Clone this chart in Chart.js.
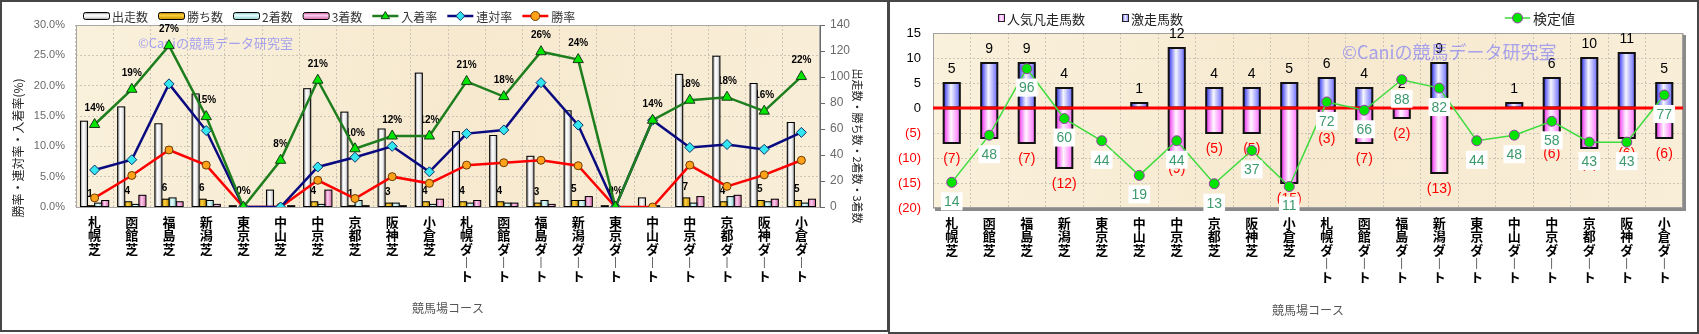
<!DOCTYPE html>
<html lang="ja">
<head>
<meta charset="utf-8">
<title>競馬場コース別成績</title>
<script src="https://cdn.jsdelivr.net/npm/chart.js@4.4.1/dist/chart.umd.min.js"></script>
<style>
  body { margin: 0; background: #fff; width: 1699px; height: 334px; overflow: hidden; }
  canvas { position: absolute; top: 0; }
  #courseChart { left: 0; }
  #gekisoChart { left: 888px; }
  .frame { position: absolute; top: 0; border: 2px solid #464646; box-sizing: border-box; pointer-events: none; }
</style>
</head>
<body>
<canvas id="courseChart" width="888" height="332"></canvas>
<canvas id="gekisoChart" width="811" height="334"></canvas>
<div class="frame" style="left:0;width:889px;height:332px"></div>
<div class="frame" style="left:888px;width:811px;height:334px"></div>
<script>
'use strict';

// コース（左右のグラフ共通）
const courseNames = ['札幌芝','函館芝','福島芝','新潟芝','東京芝','中山芝','中京芝','京都芝','阪神芝','小倉芝',
  '札幌ダート','函館ダート','福島ダート','新潟ダート','東京ダート','中山ダート','中京ダート','京都ダート','阪神ダート','小倉ダート'];

// 左：頭数（右軸）
const runCounts    = [66, 77, 64, 87, 1, 13, 91, 73, 60, 103, 58, 55, 39, 74, 1, 7, 102, 116, 95, 65];
const winCounts    = [1, 4, 6, 6, 0, 0, 4, 1, 3, 4, 4, 4, 3, 5, 0, 0, 7, 4, 5, 5];
const secondCounts = [3, 2, 7, 5, 0, 0, 2, 5, 3, 2, 3, 3, 5, 5, 0, 1, 3, 8, 4, 3];
const thirdCounts  = [5, 9, 4, 2, 0, 1, 13, 1, 1, 6, 5, 3, 2, 8, 0, 0, 8, 9, 6, 6];

// 左：率（%、左軸）
const winRate    = [1.5, 5.2, 9.4, 6.9, 0, 0, 4.4, 1.4, 5.0, 3.9, 6.9, 7.3, 7.7, 6.8, 0, 0, 6.9, 3.4, 5.3, 7.7];
const rentaiRate = [6.1, 7.8, 20.3, 12.6, 0, 0, 6.6, 8.2, 10.0, 5.8, 12.1, 12.7, 20.5, 13.5, 0, 14.3, 9.8, 10.3, 9.5, 12.3];
const placeRate  = [13.6, 19.4, 26.6, 14.9, 0, 7.7, 20.9, 9.6, 11.7, 11.7, 20.7, 18.2, 25.6, 24.3, 0, 14.3, 17.6, 18.1, 15.8, 21.5];

const rateTicks  = [0, 5, 10, 15, 20, 25, 30];
const countTicks = [0, 20, 40, 60, 80, 100, 120, 140];

// 右：激走馬数・人気凡走馬数・検定値
const gekisoCounts = [5, 9, 9, 4, 0, 1, 12, 4, 4, 5, 6, 4, 2, 9, 0, 1, 6, 10, 11, 5];
const bonsoCounts  = [7, 6, 7, 12, 0, 0, 9, 5, 5, 15, 3, 7, 2, 13, 0, 0, 6, 8, 6, 6];
const kenteiValues = [14, 48, 96, 60, 44, 19, 44, 13, 37, 11, 72, 66, 88, 82, 44, 48, 58, 43, 43, 77];
const diffTicks = [-20, -15, -10, -5, 0, 5, 10, 15];

const JP = '"Noto Sans CJK JP", "Noto Sans", sans-serif';
const NUM = 'Arial, "Liberation Sans", sans-serif';
const WATERMARK = '©Caniの競馬データ研究室';

// 円柱っぽく見せるための横グラデーション
const runShade    = [[0, '#8a8a8a'], [0.35, '#ffffff'], [0.65, '#eeeeee'], [1, '#9a9a9a']];
const winShade    = [[0, '#b07c00'], [0.4, '#ffd23c'], [1, '#c48c00']];
const secondShade = [[0, '#78bcbc'], [0.4, '#eaffff'], [1, '#8ccccc']];
const thirdShade  = [[0, '#c0589a'], [0.4, '#ffcdee'], [1, '#d06aa8']];
const gekisoShade = [[0, '#3232f0'], [0.45, '#f6f6ff'], [1, '#6a6aff']];
const bonsoShade  = [[0, '#f030f0'], [0.45, '#fff6ff'], [1, '#ff70ff']];

// 縦書きラベル（長音は縦棒にする）
function verticalLabel(name) {
  return Array.from(name).map(ch => ch === 'ー' ? '︱' : ch);
}

function setTicks(list) {
  return scale => { scale.ticks = list.map(v => ({ value: v })); };
}
function fixWidth(w) {
  return scale => { scale.width = w; };
}
function fixHeight(h) {
  return scale => { scale.height = h; };
}

function shade(ctx, x0, y0, x1, y1, stops) {
  const g = ctx.createLinearGradient(x0, y0, x1, y1);
  stops.forEach(s => g.addColorStop(s[0], s[1]));
  return g;
}

function plotBackground(chart) {
  const { ctx, chartArea: a } = chart;
  ctx.save();
  ctx.fillStyle = shade(ctx, a.left, a.top, a.right, a.bottom,
    [[0, '#faf1dc'], [0.5, '#f6e9cf'], [1, '#f9eed8']]);
  ctx.fillRect(a.left, a.top, a.right - a.left, a.bottom - a.top);
  ctx.restore();
}

function marker(ctx, style, x, y, r, fill, stroke) {
  ctx.beginPath();
  if (style === 'triangle') {
    ctx.moveTo(x, y - r);
    ctx.lineTo(x + r * 0.95, y + r * 0.6);
    ctx.lineTo(x - r * 0.95, y + r * 0.6);
    ctx.closePath();
  } else if (style === 'diamond') {
    ctx.moveTo(x, y - r);
    ctx.lineTo(x + r, y);
    ctx.lineTo(x, y + r);
    ctx.lineTo(x - r, y);
    ctx.closePath();
  } else {
    ctx.arc(x, y, r, 0, Math.PI * 2);
  }
  ctx.fillStyle = fill;
  ctx.fill();
  ctx.lineWidth = 1;
  ctx.strokeStyle = stroke;
  ctx.stroke();
}

// 棒をグラデーションで塗り直す（位置と大きさはChart.jsの要素から取る）
const cylinderBars = {
  id: 'cylinderBars',
  afterDatasetDraw(chart, args) {
    const ds = chart.data.datasets[args.index];
    if (!ds.shade) return;
    const ctx = chart.ctx;
    ctx.save();
    args.meta.data.forEach(bar => {
      const p = bar.getProps(['x', 'y', 'base', 'width'], true);
      const top = Math.min(p.y, p.base);
      const h = Math.abs(p.base - p.y);
      if (h < 0.5) return;
      const left = p.x - p.width / 2;
      ctx.fillStyle = shade(ctx, left, 0, left + p.width, 0, ds.shade);
      ctx.fillRect(left, top, p.width, h);
      ctx.lineWidth = ds.borderWidth;
      ctx.strokeStyle = ds.borderColor;
      ctx.strokeRect(left, top, p.width, h);
    });
    ctx.restore();
  }
};

const leftLegend = [
  { text: '出走数', shade: runShade },
  { text: '勝ち数', shade: winShade },
  { text: '2着数', shade: secondShade },
  { text: '3着数', shade: thirdShade },
  { text: '入着率', line: '#1e7e1e', point: 'triangle', fill: '#00e600', edge: '#1a3a1a' },
  { text: '連対率', line: '#0a0a80', point: 'diamond', fill: '#33e6f0', edge: '#10306a' },
  { text: '勝率', line: '#ff0000', point: 'circle', fill: '#ffa21a', edge: '#6a3a00' }
];

const leftDecor = {
  id: 'leftDecor',
  beforeDraw: plotBackground,
  beforeDatasetsDraw(chart) {
    const { ctx, chartArea: a } = chart;
    ctx.save();
    ctx.strokeStyle = '#a8a8a8';
    ctx.lineWidth = 1;
    ctx.strokeRect(a.left + 0.5, a.top + 0.5, a.right - a.left - 1, a.bottom - a.top);
    // 右軸の線と目盛り
    const yc = chart.scales.yCount;
    ctx.strokeStyle = '#6a6a6a';
    ctx.beginPath();
    ctx.moveTo(a.right + 0.5, a.top);
    ctx.lineTo(a.right + 0.5, a.bottom);
    countTicks.forEach(v => {
      const y = Math.round(yc.getPixelForValue(v)) + 0.5;
      ctx.moveTo(a.right, y);
      ctx.lineTo(a.right + 5, y);
    });
    ctx.stroke();

    ctx.font = '13px ' + JP;
    ctx.fillStyle = 'rgba(110,110,255,0.6)';
    ctx.textAlign = 'left';
    ctx.textBaseline = 'middle';
    ctx.fillText(WATERMARK, a.left + 62, a.top + 18);

    // 入着率と勝ち数のラベル（棒の下になる）
    ctx.font = 'bold 10px ' + NUM;
    ctx.fillStyle = '#000';
    ctx.textAlign = 'center';
    chart.getDatasetMeta(4).data.forEach((pt, i) => {
      ctx.fillText(Math.round(placeRate[i]) + '%', pt.x, pt.y - 16);
    });
    chart.getDatasetMeta(1).data.forEach((bar, i) => {
      if (winCounts[i] > 0) ctx.fillText(String(winCounts[i]), bar.x - 1, bar.y - 11);
    });
    ctx.restore();
  },
  afterDraw(chart) {
    const { ctx, chartArea: a } = chart;
    ctx.save();
    ctx.textBaseline = 'middle';
    ctx.textAlign = 'left';
    ctx.font = '12px ' + JP;
    let x = 83;
    const y = 16;
    leftLegend.forEach(item => {
      if (item.shade) {
        ctx.fillStyle = shade(ctx, 0, y - 3.5, 0, y + 3.5, item.shade);
        ctx.beginPath();
        ctx.roundRect(x + 0.5, y - 3.5, 26, 7, 2);
        ctx.fill();
        ctx.strokeStyle = '#000';
        ctx.lineWidth = 1;
        ctx.stroke();
      } else {
        ctx.strokeStyle = item.line;
        ctx.lineWidth = 2.5;
        ctx.beginPath();
        ctx.moveTo(x, y);
        ctx.lineTo(x + 26, y);
        ctx.stroke();
        marker(ctx, item.point, x + 13, y, 4.5, item.fill, item.edge);
      }
      ctx.fillStyle = '#333';
      ctx.fillText(item.text, x + 29, y + 1);
      x += 29 + ctx.measureText(item.text).width + 10;
    });

    ctx.fillStyle = '#222';
    ctx.textAlign = 'center';
    ctx.save();
    ctx.translate(18, 148);
    ctx.rotate(-Math.PI / 2);
    ctx.fillText('勝率・連対率・入着率(%)', 0, 0);
    ctx.restore();
    ctx.save();
    ctx.font = '11px ' + JP;
    ctx.translate(857, 146);
    ctx.rotate(Math.PI / 2);
    ctx.fillText('出走数・勝ち数・2着数・3着数', 0, 0);
    ctx.restore();

    ctx.fillStyle = '#555';
    ctx.fillText('競馬場コース', (a.left + a.right) / 2, 308);
    ctx.restore();
  }
};

const gridLine = { color: '#cdc5b5', drawTicks: false };
const dotted = { display: false, dash: [2, 2] };
const courseTickFont = { family: JP, size: 13, weight: 'bold', lineHeight: 1.04 };

new Chart(document.getElementById('courseChart'), {
  type: 'bar',
  data: {
    labels: courseNames.map(verticalLabel),
    datasets: [
      { label: '出走数', data: runCounts, yAxisID: 'yCount', backgroundColor: '#cccccc', borderColor: '#000', borderWidth: 1, shade: runShade, order: 1 },
      { label: '勝ち数', data: winCounts, yAxisID: 'yCount', backgroundColor: '#e8b000', borderColor: '#000', borderWidth: 1, shade: winShade, order: 1 },
      { label: '2着数', data: secondCounts, yAxisID: 'yCount', backgroundColor: '#b8ecec', borderColor: '#000', borderWidth: 1, shade: secondShade, order: 1 },
      { label: '3着数', data: thirdCounts, yAxisID: 'yCount', backgroundColor: '#e890c8', borderColor: '#000', borderWidth: 1, shade: thirdShade, order: 1 },
      { type: 'line', label: '入着率', data: placeRate, yAxisID: 'yRate', borderColor: '#1e7e1e', borderWidth: 2.5,
        pointStyle: 'triangle', pointRadius: 6, pointBackgroundColor: '#00e600', pointBorderColor: '#1a3a1a', pointBorderWidth: 1, order: 0 },
      { type: 'line', label: '連対率', data: rentaiRate, yAxisID: 'yRate', borderColor: '#0a0a80', borderWidth: 2.5,
        pointStyle: 'rectRot', pointRadius: 5, pointBackgroundColor: '#33e6f0', pointBorderColor: '#10306a', pointBorderWidth: 1, order: 0 },
      { type: 'line', label: '勝率', data: winRate, yAxisID: 'yRate', borderColor: '#ff0000', borderWidth: 2.5,
        pointStyle: 'circle', pointRadius: 4, pointBackgroundColor: '#ffa21a', pointBorderColor: '#6a3a00', pointBorderWidth: 1, order: 0 }
    ]
  },
  options: {
    responsive: false,
    animation: false,
    events: [],
    layout: { padding: { top: 25, left: 0, right: 0, bottom: 0 } },
    plugins: { legend: { display: false }, tooltip: { enabled: false } },
    datasets: { bar: { categoryPercentage: 0.76, barPercentage: 1 } },
    scales: {
      x: {
        grid: gridLine,
        border: dotted,
        ticks: { autoSkip: false, maxRotation: 0, minRotation: 0, padding: 8, color: '#000', font: courseTickFont },
        afterFit: fixHeight(125)
      },
      yRate: {
        position: 'left', min: 0, max: 30,
        afterBuildTicks: setTicks(rateTicks),
        grid: gridLine,
        border: dotted,
        ticks: { padding: 11, color: '#6a6a6a', font: { family: NUM, size: 11 }, callback: v => v.toFixed(1) + '%' },
        afterFit: fixWidth(76)
      },
      yCount: {
        position: 'right', min: 0, max: 140,
        afterBuildTicks: setTicks(countTicks),
        grid: { drawOnChartArea: false, drawTicks: false },
        border: { display: false },
        ticks: { padding: 10, color: '#6a6a6a', font: { family: NUM, size: 12 } },
        afterFit: fixWidth(68)
      }
    }
  },
  plugins: [cylinderBars, leftDecor]
});

const rightDecor = {
  id: 'rightDecor',
  beforeDraw: plotBackground,
  beforeDatasetsDraw(chart) {
    const { ctx, chartArea: a } = chart;
    ctx.save();
    ctx.strokeStyle = '#a0a0a0';
    ctx.lineWidth = 1;
    ctx.strokeRect(a.left + 0.5, a.top + 0.5, a.right - a.left - 1, a.bottom - a.top - 1);
    ctx.fillStyle = '#8a8a8a';
    ctx.fillRect(a.right, a.top + 2, 3, a.bottom - a.top + 1);
    ctx.fillRect(a.left + 2, a.bottom, a.right - a.left + 1, 3);
    ctx.restore();
  },
  afterDatasetDraw(chart, args) {
    if (args.index !== 0) return;
    const { ctx, chartArea: a } = chart;
    const y0 = chart.scales.y.getPixelForValue(0);
    ctx.save();
    ctx.font = '14px ' + NUM;
    ctx.textAlign = 'center';
    ctx.textBaseline = 'middle';
    ctx.fillStyle = '#000';
    chart.getDatasetMeta(1).data.forEach((bar, i) => {
      if (gekisoCounts[i] > 0) ctx.fillText(String(gekisoCounts[i]), bar.x, bar.y - 14);
    });
    ctx.fillStyle = '#ff0000';
    chart.getDatasetMeta(0).data.forEach((bar, i) => {
      if (bonsoCounts[i] > 0) ctx.fillText('(' + bonsoCounts[i] + ')', bar.x, bar.y + 16);
    });
    // ゼロの基準線
    ctx.fillRect(a.left, y0 - 1.5, a.right - a.left, 3);

    ctx.font = '18px ' + JP;
    ctx.fillStyle = 'rgba(100,100,255,0.55)';
    ctx.textAlign = 'left';
    ctx.fillText(WATERMARK, a.left + 409, a.top + 19);
    ctx.restore();
  },
  afterDatasetsDraw(chart) {
    const ctx = chart.ctx;
    ctx.save();
    ctx.font = '14px ' + NUM;
    ctx.textAlign = 'center';
    ctx.textBaseline = 'middle';
    chart.getDatasetMeta(2).data.forEach((pt, i) => {
      const t = String(kenteiValues[i]);
      const w = ctx.measureText(t).width + 6;
      const cy = pt.y + 19;
      ctx.fillStyle = '#fff';
      ctx.fillRect(pt.x - w / 2, cy - 9, w, 18);
      ctx.fillStyle = '#3c9a6c';
      ctx.fillText(t, pt.x, cy + 1);
    });
    ctx.restore();
  },
  afterDraw(chart) {
    const { ctx, chartArea: a } = chart;
    ctx.save();
    ctx.textBaseline = 'middle';
    ctx.textAlign = 'left';
    ctx.font = '13px ' + JP;
    const y = 18;
    [['人気凡走馬数', bonsoShade, 110], ['激走馬数', gekisoShade, 234]].forEach(([text, stops, x]) => {
      ctx.fillStyle = shade(ctx, x, 0, x + 7, 0, stops);
      ctx.fillRect(x + 0.5, y - 3.5, 6, 7);
      ctx.strokeStyle = '#222';
      ctx.lineWidth = 1;
      ctx.strokeRect(x + 0.5, y - 3.5, 6, 7);
      ctx.fillStyle = '#222';
      ctx.fillText(text, x + 9, y + 1);
    });
    ctx.strokeStyle = '#3ddc3d';
    ctx.lineWidth = 1.5;
    ctx.beginPath();
    ctx.moveTo(617, y);
    ctx.lineTo(642, y);
    ctx.stroke();
    marker(ctx, 'circle', 629.5, y, 5, '#00e400', '#9a3aa8');
    ctx.font = '14px ' + JP;
    ctx.fillStyle = '#222';
    ctx.fillText('検定値', 645, y + 1);

    ctx.font = '12px ' + JP;
    ctx.fillStyle = '#555';
    ctx.textAlign = 'center';
    ctx.fillText('競馬場コース', (a.left + a.right) / 2, 310);
    ctx.restore();
  }
};

new Chart(document.getElementById('gekisoChart'), {
  type: 'bar',
  data: {
    labels: courseNames.map(verticalLabel),
    datasets: [
      { label: '人気凡走馬数', data: bonsoCounts.map(v => -v), backgroundColor: '#ff90ff', borderColor: '#111', borderWidth: 2, shade: bonsoShade, order: 1 },
      { label: '激走馬数', data: gekisoCounts, backgroundColor: '#9090ff', borderColor: '#111', borderWidth: 2, shade: gekisoShade, order: 1 },
      { type: 'line', label: '検定値', data: kenteiValues, yAxisID: 'yK', borderColor: '#3ddc3d', borderWidth: 1.5,
        pointRadius: 5, pointBackgroundColor: '#00e400', pointBorderColor: '#9a3aa8', pointBorderWidth: 1, order: 0 }
    ]
  },
  options: {
    responsive: false,
    animation: false,
    events: [],
    layout: { padding: { top: 33, left: 0, right: 16, bottom: 0 } },
    plugins: { legend: { display: false }, tooltip: { enabled: false } },
    datasets: { bar: { categoryPercentage: 0.43, barPercentage: 1 } },
    scales: {
      x: {
        stacked: true,
        grid: gridLine,
        border: dotted,
        ticks: { autoSkip: false, maxRotation: 0, minRotation: 0, padding: 8, color: '#000', font: courseTickFont },
        afterFit: fixHeight(126)
      },
      y: {
        stacked: true, min: -20, max: 15,
        afterBuildTicks: setTicks(diffTicks),
        grid: gridLine,
        border: dotted,
        ticks: { padding: 12, font: { family: NUM, size: 13 },
          color: c => (c.tick && c.tick.value < 0 ? '#ff0000' : '#000'),
          callback: v => (v < 0 ? '(' + (-v) + ')' : String(v)) },
        afterFit: fixWidth(45)
      },
      yK: { display: false, min: -4.5, max: 121.7 }
    }
  },
  plugins: [cylinderBars, rightDecor]
});
</script>
</body>
</html>
